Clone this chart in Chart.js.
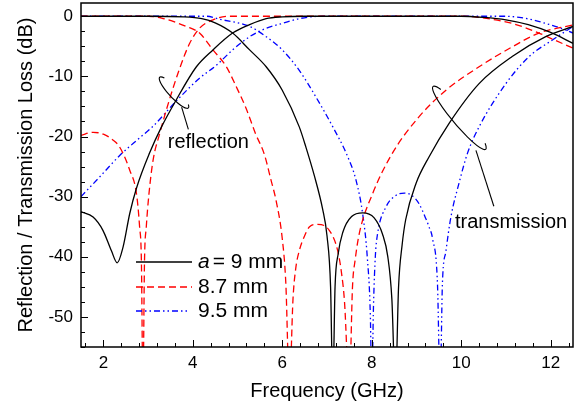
<!DOCTYPE html>
<html>
<head>
<meta charset="utf-8">
<script src="https://cdn.jsdelivr.net/npm/chart.js@4.4.0/dist/chart.umd.min.js"></script>
<style>
  html, body { margin: 0; padding: 0; background: #fff; }
</style>
</head>
<body>
<canvas id="chart" width="576" height="408"></canvas>
<script>
// Frequency (GHz) / loss (dB), one pair of arrays per curve

// a = 9 mm (black, solid)
const freqRefl90 = [1.5, 1.77, 1.99, 2.18, 2.31, 2.44, 2.59, 2.74, 3.03, 3.3, 3.6, 4.08, 4.45, 4.89, 5.27, 5.64, 6.0, 6.5, 8.0, 10.0, 10.5, 11.0, 11.5, 12.0, 12.5];
const lossRefl90 = [-32.5, -33.4, -35.6, -39, -41, -38.4, -32.8, -28.6, -22.8, -18.4, -14.3, -8.4, -5.6, -2.8, -1.4, -0.4, -0.1, 0, 0, 0, -0.2, -0.6, -1.4, -2.7, -4.5];
const freqTrans90 = [1.5, 3.0, 3.8, 4.2, 4.5, 4.89, 5.27, 5.64, 6.0, 6.38, 6.53, 6.72, 6.9, 7.0, 7.08, 7.13, 7.18, 7.25, 7.35, 7.55, 7.8, 8.05, 8.24, 8.36, 8.45, 8.53, 8.6, 8.68, 8.76, 8.99, 9.28, 9.73, 10.4, 11.14, 11.89, 12.5];
const lossTrans90 = [0, 0, -0.1, -0.4, -1.1, -2.8, -5.6, -8.4, -12.3, -18.4, -21.8, -26.6, -32, -36.5, -45, -62, -45, -39.5, -36, -33.3, -32.7, -33.5, -36.2, -40, -47, -62, -45, -38, -33.8, -27.8, -23.4, -17.8, -11.2, -6.7, -3.4, -1.7];

// a = 8.7 mm (red, dashed)
const freqRefl87 = [1.5, 1.77, 2.0, 2.2, 2.36, 2.59, 2.74, 2.81, 2.85, 2.885, 2.92, 2.96, 3.02, 3.11, 3.26, 3.48, 3.7, 3.93, 4.15, 4.45, 4.82, 6.0, 8.0, 10.0, 10.4, 11.14, 11.74, 12.1, 12.5];
const lossRefl87 = [-19.8, -19.3, -19.6, -20.5, -21.7, -25.6, -29.5, -35, -40.6, -62, -40.6, -35, -29.5, -24, -19.5, -13.8, -8.8, -4.5, -2.0, -0.6, 0, 0, 0, 0, -0.2, -1.2, -2.8, -4, -5.3];
const freqTrans87 = [1.5, 3.0, 3.3, 3.85, 4.15, 4.45, 4.75, 4.97, 5.19, 5.4, 5.6, 5.75, 5.86, 6.0, 6.08, 6.16, 6.24, 6.3, 6.38, 6.5, 6.61, 6.79, 7.05, 7.24, 7.33, 7.39, 7.5, 7.57, 7.63, 7.72, 8.02, 8.46, 9.06, 9.66, 10.4, 11.14, 11.74, 12.5];
const lossTrans87 = [0, 0, -0.3, -1.7, -2.8, -5.6, -8.4, -11.7, -15.3, -19.5, -23, -27.3, -30.6, -37, -44.5, -62, -47, -42, -39, -36.5, -35, -34.6, -35.6, -39, -43, -47.3, -62, -45, -40.5, -36.2, -29.5, -22.8, -16.7, -12.3, -8.4, -5.1, -2.8, -1.45];

// a = 9.5 mm (blue, dash-dot-dot)
const freqRefl95 = [1.5, 1.92, 2.36, 2.8, 3.11, 3.63, 4.15, 4.52, 4.89, 5.27, 5.64, 6.0, 6.38, 6.9, 9.0, 11.0, 11.3, 11.6, 11.89, 12.2, 12.5];
const lossRefl95 = [-30, -26.7, -23.2, -20.3, -18.3, -14.1, -10.3, -8.2, -5.6, -3.4, -2.0, -1.2, -0.4, 0, 0, 0, -0.2, -0.6, -1.2, -1.9, -2.8];
const freqTrans95 = [1.5, 4.3, 4.6, 5.27, 5.64, 6.0, 6.38, 6.75, 7.13, 7.46, 7.65, 7.8, 7.9, 7.97, 8.0, 8.04, 8.08, 8.13, 8.32, 8.5, 8.73, 8.9, 9.06, 9.2, 9.28, 9.36, 9.47, 9.53, 9.58, 9.66, 9.77, 9.95, 10.14, 10.4, 11.0, 11.52, 12.04, 12.5];
const lossTrans95 = [0, 0, -0.5, -1.7, -3.4, -5.6, -9, -13.4, -18.4, -23.3, -27.3, -33, -40, -50, -62, -48, -40, -36.2, -31.7, -30, -29.4, -29.8, -31.2, -33.5, -35, -37, -44.5, -62, -44.5, -39, -33.4, -27.8, -22.8, -18.4, -11.2, -6.7, -3.95, -1.7];

// axes
const xTickValues = [2, 4, 6, 8, 10, 12];
const yTickValues = [-50, -40, -30, -20, -10, 0];
const legendLabels = ['9 mm', '8.7 mm', '9.5 mm'];

const FONT = '"Liberation Sans", Arial, Helvetica, sans-serif';
const styles = [
  { color: '#000000', dash: [] },
  { color: '#ff0000', dash: [7, 4] },
  { color: '#0000ff', dash: [6, 3, 1.5, 3, 1.5, 3] }
];

function pairs(fs, ls) {
  return fs.map((f, i) => ({ x: f, y: ls[i] }));
}

function curve(fs, ls, k) {
  return {
    data: pairs(fs, ls),
    borderColor: styles[k].color,
    borderDash: styles[k].dash,
    borderWidth: 1.3,
    pointRadius: 0,
    fill: false,
    showLine: true,
    cubicInterpolationMode: 'monotone'
  };
}

// frame, inward ticks, annotations and legend
const decorPlugin = {
  id: 'decor',
  afterDatasetsDraw(chart) {
    const { ctx, chartArea: a, scales: { x, y } } = chart;
    ctx.save();
    ctx.strokeStyle = '#000';
    ctx.lineWidth = 1;
    ctx.setLineDash([]);
    ctx.beginPath();
    // x minor every 0.4 GHz, y minor every 2.5 dB
    for (let i = 4; i <= 31; i++) {
      const v = i * 0.4;
      if (v < x.min || v > x.max) continue;
      const px = Math.round(x.getPixelForValue(v)) + 0.5;
      const len = xTickValues.some(t => Math.abs(t - v) < 1e-6) ? 7 : 4;
      ctx.moveTo(px, a.bottom);
      ctx.lineTo(px, a.bottom - len);
    }
    for (let i = -22; i <= 0; i++) {
      const v = i * 2.5;
      if (v < y.min || v > y.max) continue;
      const py = Math.round(y.getPixelForValue(v)) + 0.5;
      const len = yTickValues.includes(v) ? 7 : 4;
      ctx.moveTo(a.left, py);
      ctx.lineTo(a.left + len, py);
    }
    ctx.stroke();
    ctx.lineWidth = 1.5;
    ctx.strokeRect(a.left, a.top, a.right - a.left, a.bottom - a.top);

    // annotation loops + leader lines
    const loops = [
      { f: 3.58, db: -12.7, rx: 21, ry: 5, rot: 47, from: [3.75, -15.1], to: [3.90, -18.8] },
      { f: 9.96, db: -16.9, rx: 41, ry: 7, rot: 50, from: [10.33, -22.3], to: [10.73, -31.6] }
    ];
    ctx.lineWidth = 1.1;
    loops.forEach(l => {
      ctx.beginPath();
      ctx.ellipse(x.getPixelForValue(l.f), y.getPixelForValue(l.db), l.rx, l.ry,
        l.rot * Math.PI / 180, -0.5, 3.75, false);
      ctx.stroke();
      ctx.beginPath();
      ctx.moveTo(x.getPixelForValue(l.from[0]), y.getPixelForValue(l.from[1]));
      ctx.lineTo(x.getPixelForValue(l.to[0]), y.getPixelForValue(l.to[1]));
      ctx.stroke();
    });

    ctx.fillStyle = '#000';
    ctx.font = '20px ' + FONT;
    ctx.textBaseline = 'middle';
    ctx.textAlign = 'left';
    ctx.fillText('reflection', x.getPixelForValue(3.44), y.getPixelForValue(-21.0));
    ctx.fillText('transmission', x.getPixelForValue(9.86), y.getPixelForValue(-34.3));

    // legend
    const lx0 = 136, lx1 = 192, tx = 198;
    const rows = [262, 287, 311];
    legendLabels.forEach((lab, k) => {
      ctx.strokeStyle = styles[k].color;
      ctx.setLineDash(styles[k].dash);
      ctx.lineWidth = 1.6;
      ctx.beginPath();
      ctx.moveTo(lx0, rows[k]);
      ctx.lineTo(k === 2 ? lx1 - 4 : lx1, rows[k]);
      ctx.stroke();
      ctx.setLineDash([]);
      ctx.fillStyle = '#000';
      if (k === 0) {
        ctx.font = 'italic 21px ' + FONT;
        ctx.fillText('a', tx, rows[k]);
        const w = ctx.measureText('a').width;
        ctx.font = '21px ' + FONT;
        ctx.fillText('= ' + lab, tx + w + 3, rows[k]);
      } else {
        ctx.font = '21px ' + FONT;
        ctx.fillText(lab, tx, rows[k]);
      }
    });
    ctx.restore();
  }
};

new Chart(document.getElementById('chart'), {
  type: 'scatter',
  data: {
    datasets: [
      curve(freqRefl90, lossRefl90, 0),
      curve(freqTrans90, lossTrans90, 0),
      curve(freqRefl87, lossRefl87, 1),
      curve(freqTrans87, lossTrans87, 1),
      curve(freqRefl95, lossRefl95, 2),
      curve(freqTrans95, lossTrans95, 2)
    ]
  },
  options: {
    responsive: false,
    animation: false,
    layout: { padding: { left: 0, right: 3, top: 3, bottom: 0 } },
    plugins: { legend: { display: false }, tooltip: { enabled: false } },
    scales: {
      x: {
        type: 'linear',
        min: 1.5,
        max: 12.5,
        afterBuildTicks: s => { s.ticks = xTickValues.map(v => ({ value: v })); },
        afterFit: s => { s.height = 61; s.paddingLeft = 0; s.paddingRight = 0; },
        grid: { display: false, drawTicks: false },
        border: { display: false },
        ticks: { color: '#000', font: { family: FONT, size: 17 }, padding: 6, autoSkip: false, maxRotation: 0 },
        title: { display: true, text: 'Frequency (GHz)', color: '#000', font: { family: FONT, size: 20 }, padding: { top: 0, bottom: 5 } }
      },
      y: {
        type: 'linear',
        min: -55,
        max: 2.2,
        afterBuildTicks: s => { s.ticks = yTickValues.map(v => ({ value: v })); },
        afterFit: s => { s.width = 81; s.paddingTop = 0; s.paddingBottom = 0; },
        grid: { display: false, drawTicks: false },
        border: { display: false },
        ticks: { color: '#000', font: { family: FONT, size: 17 }, padding: 8, autoSkip: false },
        title: { display: true, text: 'Reflection / Transmission Loss (dB)', color: '#000', font: { family: FONT, size: 20 }, padding: { top: 14, bottom: 0 } }
      }
    }
  },
  plugins: [decorPlugin]
});
</script>
</body>
</html>
